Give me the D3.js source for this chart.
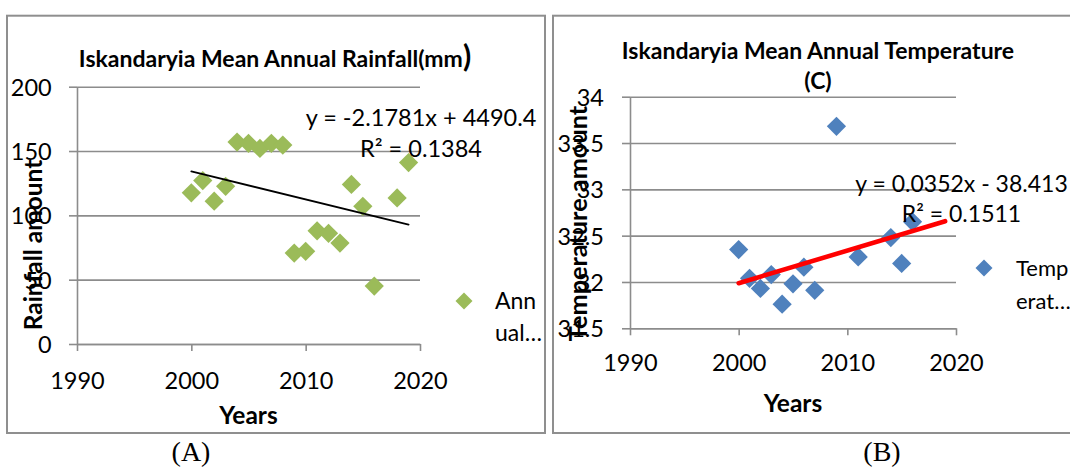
<!DOCTYPE html>
<html>
<head>
<meta charset="utf-8">
<script src="https://cdn.jsdelivr.net/npm/d3@7"></script>
<style>
  html, body { margin: 0; padding: 0; background: #fff; }
  svg { display: block; }
  text { font-family: Lato, "Open Sans", sans-serif; fill: #000; }
</style>
</head>
<body>
<svg id="chart" width="1070" height="469"></svg>
<script>
// ---- data ----
const yearTicks = [1990, 2000, 2010, 2020];

const rainYears  = [2000, 2001, 2002, 2003, 2004, 2005, 2006, 2007, 2008, 2009,
                    2010, 2011, 2012, 2013, 2014, 2015, 2016, 2018, 2019];
const rainValues = [117.5, 127, 111, 122.6, 157, 156, 152, 156, 154.6, 70.7,
                    72, 88, 86, 78.5, 124, 107, 45, 113.5, 141];
const rainTicks  = [0, 50, 100, 150, 200];
const rainSlope = -2.1781, rainIntercept = 4490.4, rainR2 = 0.1384;

const tempYears  = [2000, 2001, 2002, 2003, 2004, 2005, 2006, 2007, 2009, 2011, 2014, 2015, 2016];
const tempValues = [32.35, 32.04, 31.93, 32.08, 31.76, 31.98, 32.16, 31.91, 33.68, 32.27, 32.48, 32.2, 32.65];
const tempTicks  = [31.5, 32, 32.5, 33, 33.5, 34];
const tempSlope = 0.0352, tempIntercept = -38.413, tempR2 = 0.1511;

const trendSpan = [2000, 2019];

// ---- styling ----
const gridColor = "#8c8c8c";
const frameColor = "#8f8f8f";
const tickFont = 23.5, titleFont = 23;

const svg = d3.select("#chart");
svg.append("rect").attr("width", 1070).attr("height", 469).attr("fill", "#fff");

function fmtEq(slope, intercept) {
  const i = intercept < 0 ? " - " + Math.abs(intercept) : " + " + intercept;
  return "y = " + slope + "x" + i;
}

function drawPanel(o) {
  const g = svg.append("g");

  // chart frame
  g.append("rect")
    .attr("x", o.frame[0]).attr("y", o.frame[1])
    .attr("width", o.frame[2]).attr("height", o.frame[3])
    .attr("fill", "none").attr("stroke", frameColor).attr("stroke-width", 2);

  const x = d3.scaleLinear().domain([1990, 2020]).range([o.x0, o.x1]);
  const y = d3.scaleLinear().domain(o.yDomain).range([o.y0, o.y1]);

  // horizontal gridlines
  g.append("g")
    .attr("transform", `translate(${o.x0},0)`)
    .call(d3.axisLeft(y).tickValues(o.yTicks).tickSize(-(o.x1 - o.x0)).tickFormat(""))
    .call(s => s.select(".domain").remove())
    .selectAll("line").attr("stroke", gridColor).attr("stroke-width", 1.6);

  // y axis
  const ya = g.append("g")
    .attr("transform", `translate(${o.x0},0)`)
    .call(d3.axisLeft(y).tickValues(o.yTicks).tickSize(8).tickSizeOuter(0)
      .tickPadding(o.yPad).tickFormat(o.yFmt));
  ya.attr("font-family", null).attr("font-size", null);
  ya.selectAll("line, path").attr("stroke", gridColor).attr("stroke-width", 1.6);
  ya.selectAll("text").style("font-size", tickFont + "px").attr("dy", "0.36em");

  // x axis
  const xa = g.append("g")
    .attr("transform", `translate(0,${o.y0})`)
    .call(d3.axisBottom(x).tickValues(yearTicks).tickSize(7).tickSizeOuter(0).tickFormat(d3.format("d")));
  xa.attr("font-family", null).attr("font-size", null);
  xa.selectAll("line, path").attr("stroke", gridColor).attr("stroke-width", 1.6);
  xa.selectAll("text").style("font-size", tickFont + "px").attr("y", o.xLabelOff).attr("dy", "0.36em");

  // points
  g.append("g").selectAll("path")
    .data(o.years.map((yr, i) => [yr, o.values[i]]))
    .join("path")
    .attr("d", d3.symbol(d3.symbolSquare, 185)())
    .attr("transform", d => `translate(${x(d[0])},${y(d[1])}) rotate(45)`)
    .attr("fill", o.color);

  // linear trendline
  const trend = d3.line().x(d => x(d)).y(d => y(o.slope * d + o.intercept));
  g.append("path").datum(trendSpan)
    .attr("d", trend)
    .attr("fill", "none")
    .attr("stroke", o.trendColor)
    .attr("stroke-width", o.trendWidth)
    .attr("stroke-linecap", "round");

  // trendline label
  const tl = g.append("text").attr("text-anchor", "middle").style("font-size", o.trendFont + "px");
  tl.append("tspan").attr("x", o.eqPos[0]).attr("y", o.eqPos[1]).attr("dy", "0.36em")
    .text(fmtEq(o.slope, o.intercept));
  tl.append("tspan").attr("x", o.eqPos[0]).attr("y", o.eqPos[1] + o.eqGap).attr("dy", "0.36em")
    .text("R\u00B2 = " + o.r2);

  // title
  const t = g.append("text").attr("text-anchor", "middle")
    .style("font-size", titleFont + "px").style("font-weight", "bold");
  o.title.forEach((line, i) => {
    t.append("tspan").attr("x", o.titlePos[0]).attr("y", o.titlePos[1] + i * o.titleGap)
      .attr("dy", "0.36em").text(line);
    if (o.titleTail && i === o.title.length - 1) {
      t.append("tspan").style("font-size", "30px").text(o.titleTail);
    }
  });

  // axis titles
  g.append("text").attr("text-anchor", "middle")
    .attr("transform", `translate(${o.yTitlePos[0]},${o.yTitlePos[1]}) rotate(-90)`)
    .attr("dy", "0.36em")
    .style("font-size", o.yTitleFont + "px").style("font-weight", "bold")
    .text(o.yTitle);
  g.append("text").attr("text-anchor", "middle")
    .attr("x", o.xTitlePos[0]).attr("y", o.xTitlePos[1]).attr("dy", "0.36em")
    .style("font-size", "24.5px").style("font-weight", "bold")
    .text("Years");

  // legend
  g.append("path")
    .attr("d", d3.symbol(d3.symbolSquare, 145)())
    .attr("transform", `translate(${o.legendPos[0]},${o.legendPos[1]}) rotate(45)`)
    .attr("fill", o.color);
  const lt = g.append("text").style("font-size", o.legendFont + "px");
  o.legendText.forEach((s, i) => {
    lt.append("tspan").attr("x", o.legendPos[0] + o.legendDx).attr("y", o.legendPos[1] + i * o.legendGap)
      .attr("dy", "0.36em").text(s);
  });

  // panel caption
  g.append("text").attr("text-anchor", "middle")
    .attr("x", o.caption[0]).attr("y", 461)
    .style("font-family", "'Liberation Serif', 'Times New Roman', serif")
    .style("font-size", "28px")
    .text(o.caption[1]);
}

drawPanel({
  frame: [7, 15.7, 538, 417.3],
  x0: 77, x1: 420, y0: 344, y1: 86.7,
  yDomain: [0, 200], yTicks: rainTicks, yFmt: d3.format("d"), yPad: 17.3,
  xLabelOff: 36.5,
  years: rainYears, values: rainValues, color: "#9bbb59",
  slope: rainSlope, intercept: rainIntercept, r2: rainR2,
  trendColor: "#000", trendWidth: 1.8,
  eqPos: [421, 118], eqGap: 31, trendFont: 23.5,
  title: ["Iskandaryia Mean Annual Rainfall(mm"], titleTail: ")",
  titlePos: [275, 58.3], titleGap: 0,
  yTitle: "Rainfall amount", yTitlePos: [33, 245], yTitleFont: 24.5,
  xTitlePos: [248.5, 415],
  legendPos: [464, 301], legendDx: 31, legendGap: 32, legendFont: 23, legendText: ["Ann", "ual\u2026"],
  caption: [191, "(A)"]
});

drawPanel({
  frame: [553, 15.7, 600, 417.3],
  x0: 630, x1: 956, y0: 328.3, y1: 96.7,
  yDomain: [31.5, 34], yTicks: tempTicks, yFmt: d => String(d), yPad: 18,
  xLabelOff: 34.7,
  years: tempYears, values: tempValues, color: "#4f81bd",
  slope: tempSlope, intercept: tempIntercept, r2: tempR2,
  trendColor: "#ff0000", trendWidth: 4.6,
  eqPos: [961.5, 184], eqGap: 29.5, trendFont: 23,
  title: ["Iskandaryia Mean Annual Temperature", "(C)"], titleTail: null,
  titlePos: [818, 50.8], titleGap: 30,
  yTitle: "Temperature amount", yTitlePos: [578, 223.5], yTitleFont: 25.3,
  xTitlePos: [793, 403],
  legendPos: [984, 268], legendDx: 32, legendGap: 33.5, legendFont: 22, legendText: ["Temp", "erat\u2026"],
  caption: [882, "(B)"]
});
</script>
</body>
</html>
